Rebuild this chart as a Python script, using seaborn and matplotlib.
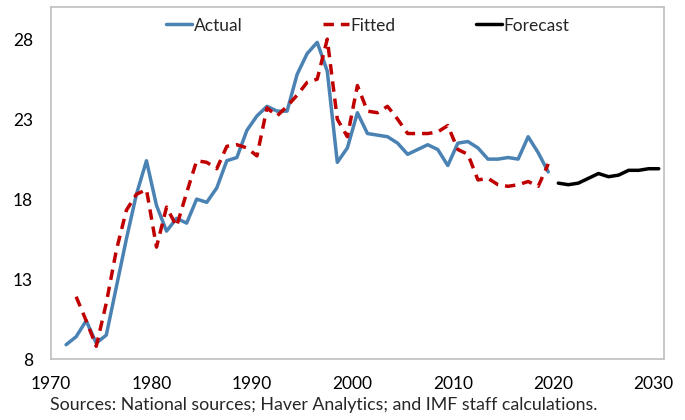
import numpy as np
import pandas as pd
import matplotlib
matplotlib.use("Agg")
import matplotlib.pyplot as plt
import seaborn as sns

# ----- data (annual, plotted at mid-year) -----
actual_years = list(range(1971, 2020))
actual = [8.9, 9.4, 10.4, 9.0, 9.5, 12.5, 15.5, 18.3, 20.4, 17.6,
          16.0, 16.8, 16.5, 18.0, 17.8, 18.7, 20.4, 20.6, 22.3, 23.2,
          23.8, 23.5, 23.5, 25.8, 27.1, 27.8, 26.0, 20.3, 21.2, 23.4,
          22.1, 22.0, 21.9, 21.5, 20.8, 21.1, 21.4, 21.1, 20.1, 21.5,
          21.6, 21.2, 20.5, 20.5, 20.6, 20.5, 21.9, 20.9, 19.7]

fitted_years = list(range(1972, 2020))
fitted = [11.9, 10.4, 8.8, 11.5, 14.8, 17.3, 18.3, 18.6, 15.0, 17.5,
          16.3, 18.4, 20.4, 20.3, 19.9, 21.3, 21.4, 21.2, 20.7, 23.7,
          23.2, 23.8, 24.5, 25.3, 25.5, 28.0, 23.0, 21.9, 25.1, 23.5,
          23.4, 23.8, 23.0, 22.1, 22.1, 22.1, 22.2, 22.6, 21.1, 20.8,
          19.2, 19.3, 18.9, 18.8, 18.9, 19.1, 18.8, 20.2]

forecast_years = list(range(2020, 2031))
forecast = [19.0, 18.9, 19.0, 19.3, 19.6, 19.4, 19.5, 19.8, 19.8, 19.9, 19.9]

y_ticks = [8, 13, 18, 23, 28]
x_ticks = list(range(1970, 2031, 10))
source_note = "Sources: National sources; Haver Analytics; and IMF staff calculations."

sns.set_style("white")
plt.rcParams["font.family"] = ["Lato", "DejaVu Sans"]

df_a = pd.DataFrame({"year": np.array(actual_years) + 0.5, "value": actual})
df_f = pd.DataFrame({"year": np.array(fitted_years) + 0.5, "value": fitted})
df_p = pd.DataFrame({"year": np.array(forecast_years) + 0.5, "value": forecast})

fig = plt.figure(figsize=(6.85, 4.2), dpi=100)
ax = fig.add_axes([0.0745, 0.145, 0.8945, 0.838])

sns.lineplot(data=df_a, x="year", y="value", ax=ax, color="#4A82B4", lw=2.5, label="Actual")
sns.lineplot(data=df_f, x="year", y="value", ax=ax, color="#C00000", lw=2.5,
             label="Fitted").lines[-1].set_dashes((3.0, 2.0))
sns.lineplot(data=df_p, x="year", y="value", ax=ax, color="black", lw=2.5, label="Forecast")

ax.set_xlim(1970, 2031)
ax.set_ylim(8, 30)
ax.set_yticks(y_ticks)
ax.set_xticks(x_ticks)
ax.set_xticks(range(1975, 2031, 10), minor=True)
ax.set_xlabel("")
ax.set_ylabel("")
ax.tick_params(axis="both", which="both", direction="in", length=5, color="#BFBFBF",
               labelsize=12.5, labelcolor="black")
ax.tick_params(axis="x", pad=12)
ax.tick_params(axis="y", pad=13)
for s in ax.spines.values():
    s.set_color("#BFBFBF")
    s.set_linewidth(1.2)

ax.legend(loc="upper center", bbox_to_anchor=(0.517, 1.0), ncol=3, frameon=False,
          fontsize=12.5, handlelength=1.5, handletextpad=0.1, columnspacing=4.6,
          borderaxespad=0.2)

fig.text(0.073, 0.035, source_note, fontsize=12.8, ha="left", va="center")

fig.savefig("out.png", dpi=100)
